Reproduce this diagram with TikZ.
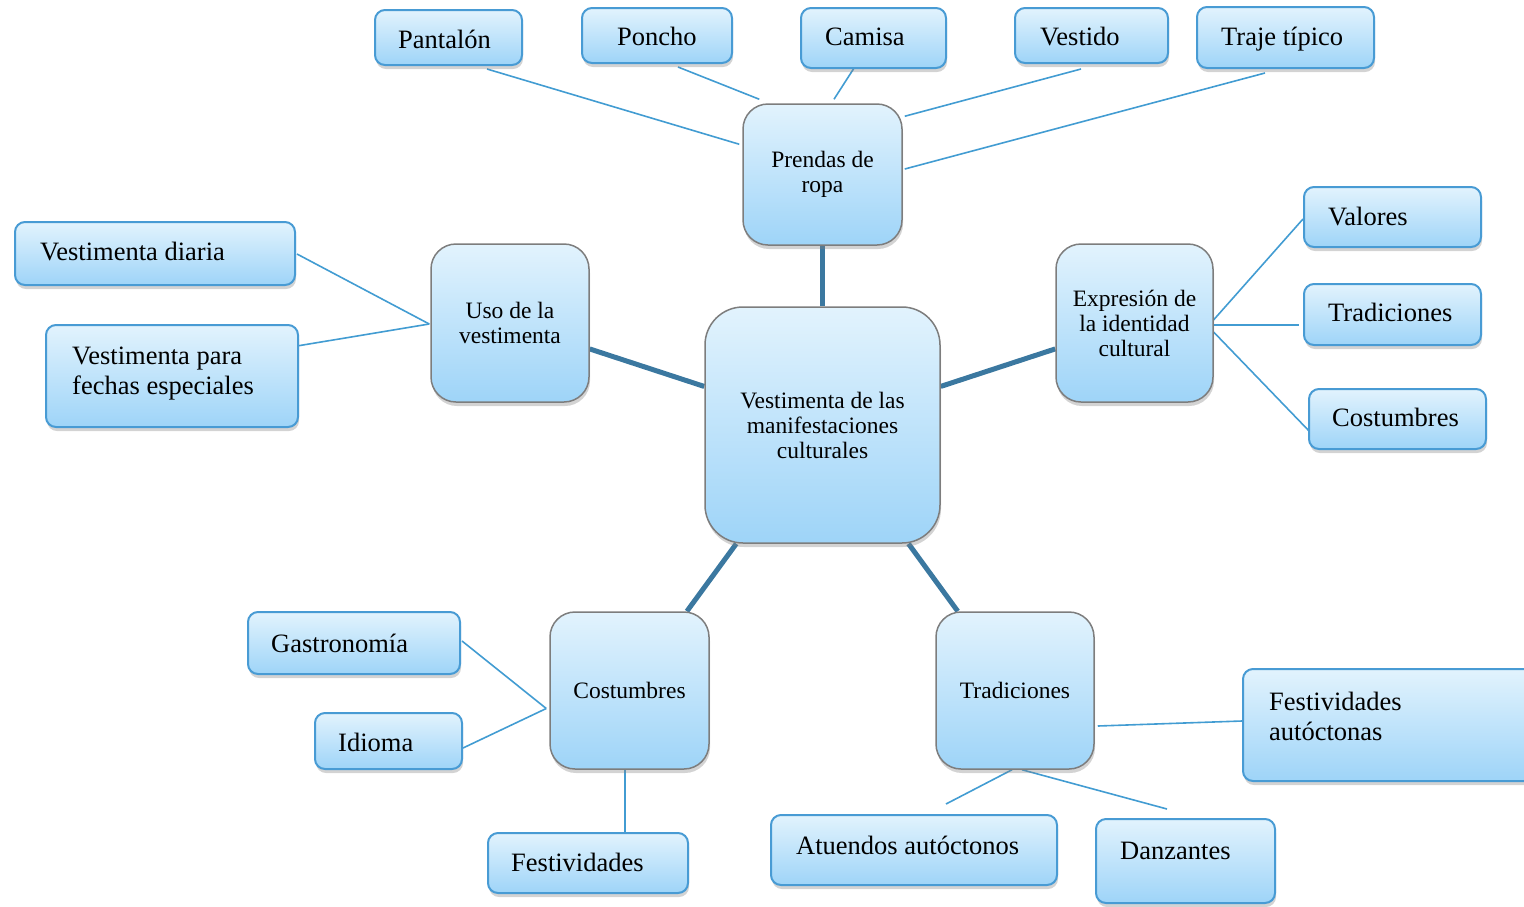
\documentclass[tikz,border=0pt]{standalone}
\usepackage{fontspec}
\setmainfont{Liberation Serif}
\usetikzlibrary{shadows}
\definecolor{boxtop}{RGB}{226,243,253}
\definecolor{boxbot}{RGB}{158,212,248}
\definecolor{leafline}{RGB}{72,155,212}
\definecolor{hubline}{RGB}{125,125,125}
\definecolor{trunk}{RGB}{59,120,160}
\definecolor{twig}{RGB}{66,156,210}
\pgfdeclarelayer{bg}
\pgfsetlayers{bg,main}

\begin{document}
\begin{tikzpicture}[x=1pt,y=-1pt,
    hub/.style={draw=hubline, line width=1.5pt, rounded corners=25pt, top color=boxtop, bottom color=boxbot,
      align=center, font=\fontsize{23.5}{25}\selectfont, inner sep=0pt,
      drop shadow={shadow xshift=1pt, shadow yshift=-4pt, opacity=.35}},
    leaf/.style={draw=leafline, line width=2pt, rounded corners=10pt, top color=boxtop, bottom color=boxbot,
      inner sep=0pt, drop shadow={shadow xshift=1pt, shadow yshift=-4pt, opacity=.35}},
    ltxt/.style={font=\fontsize{26.5}{30}\selectfont, inner sep=0pt, align=left},
    trunkline/.style={draw=trunk, line width=5pt},
    twigline/.style={draw=twig, line width=1.6pt}]
    \useasboundingbox (0,0) rectangle (1524,906);

    %Shape: central box
    \node[hub, rounded corners=38pt, minimum width=235, minimum height=236] (center) at (822.5,425) {Vestimenta de las\\manifestaciones\\culturales};
    %Shape: second level boxes
    \node[hub, minimum width=159, minimum height=141] (prendas) at (822.5,174.5) {Prendas de\\ropa};
    \node[hub, minimum width=158, minimum height=158] (uso) at (510,323) {Uso de la\\vestimenta};
    \node[hub, minimum width=157, minimum height=158] (expr) at (1134.5,323) {Expresión de\\la identidad\\cultural};
    \node[hub, minimum width=159, minimum height=157] (costM) at (629.5,690.5) {Costumbres};
    \node[hub, minimum width=158, minimum height=157] (tradM) at (1015,690.5) {Tradiciones};

    %Shape: leaf boxes
    \node[leaf, minimum width=147, minimum height=55] (pantalon) at (448.5,37.5) {};
    \node[leaf, minimum width=150, minimum height=55] (poncho) at (657,35.5) {};
    \node[leaf, minimum width=145, minimum height=60] (camisa) at (873.5,38) {};
    \node[leaf, minimum width=153, minimum height=55] (vestido) at (1091.5,35.5) {};
    \node[leaf, minimum width=177, minimum height=61] (traje) at (1285.5,37.5) {};
    \node[leaf, minimum width=177, minimum height=60] (valores) at (1392.5,217) {};
    \node[leaf, minimum width=177, minimum height=61] (tradR) at (1392.5,314.5) {};
    \node[leaf, minimum width=177, minimum height=60] (costR) at (1397.5,419) {};
    \node[leaf, minimum width=280, minimum height=63] (vdiaria) at (155,253.5) {};
    \node[leaf, minimum width=252, minimum height=102] (vfechas) at (172,376) {};
    \node[leaf, minimum width=212, minimum height=62] (gastro) at (354,643) {};
    \node[leaf, minimum width=147, minimum height=56] (idioma) at (388.5,741) {};
    \node[leaf, minimum width=200, minimum height=60] (festiv) at (588,863) {};
    \node[leaf, minimum width=286, minimum height=70] (atuendos) at (914,850) {};
    \node[leaf, minimum width=179, minimum height=84] (danz) at (1185.5,861) {};
    \node[leaf, minimum width=291, minimum height=112] (festaut) at (1388.5,725) {};

    % Text Node
    \node[ltxt, anchor=base west] (pantalonT) at (398,48) {Pantalón};
    \node[ltxt, anchor=base west] (ponchoT) at (617,45) {Poncho};
    \node[ltxt, anchor=base west] (camisaT) at (825,45) {Camisa};
    \node[ltxt, anchor=base west] (vestidoT) at (1040,45) {Vestido};
    \node[ltxt, anchor=base west] (trajeT) at (1221,45) {Traje típico};
    \node[ltxt, anchor=base west] (valoresT) at (1328,225) {Valores};
    \node[ltxt, anchor=base west] (tradRT) at (1328,321) {Tradiciones};
    \node[ltxt, anchor=base west] (costRT) at (1332,426) {Costumbres};
    \node[ltxt, anchor=base west] (vdiariaT) at (40,260) {Vestimenta diaria};
    \node[ltxt, anchor=west] (vfechasT) at (72,374) {Vestimenta para\\fechas especiales};
    \node[ltxt, anchor=base west] (gastroT) at (271,652) {Gastronomía};
    \node[ltxt, anchor=base west] (idiomaT) at (338,751) {Idioma};
    \node[ltxt, anchor=base west] (festivT) at (511,871) {Festividades};
    \node[ltxt, anchor=base west] (atuendosT) at (796,854) {Atuendos autóctonos};
    \node[ltxt, anchor=base west] (danzT) at (1120,859) {Danzantes};
    \node[ltxt, anchor=west] (festautT) at (1269,716) {Festividades\\autóctonas};

    \begin{pgfonlayer}{bg}
    %Straight Lines: centre to second level
    \draw[trunkline] (center) -- (prendas);
    \draw[trunkline] (center) -- (uso);
    \draw[trunkline] (center) -- (expr);
    \draw[trunkline] (center) -- (costM);
    \draw[trunkline] (center) -- (tradM);
    %Straight Lines: prendas de ropa
    \draw[twigline] ([shift={(38.5,3)}]pantalon.south) -- ([shift={(-3,41)}]prendas.north west);
    \draw[twigline] ([shift={(21,3)}]poncho.south) -- ([shift={(17,-4)}]prendas.north west);
    \draw[twigline] ([shift={(-17.5,-4)}]camisa.south) -- ([shift={(11.5,-4)}]prendas.north);
    \draw[twigline] ([shift={(-10.5,5)}]vestido.south) -- ([shift={(2,13)}]prendas.north east);
    \draw[twigline] ([shift={(-20.5,4)}]traje.south) -- ([shift={(2,-5.5)}]prendas.east);
    %Straight Lines: expresion
    \draw[twigline] ([shift={(-2,-1)}]expr.east) -- ([shift={(0,2)}]valores.west);
    \draw[twigline] ([shift={(-2,2)}]expr.east) -- ([shift={(-4,10.5)}]tradR.west);
    \draw[twigline] ([shift={(-4,5)}]expr.east) -- ([shift={(3,14)}]costR.west);
    %Straight Lines: uso
    \draw[twigline] ([shift={(1,0.5)}]vdiaria.east) -- ([shift={(-1,1)}]uso.west);
    \draw[twigline] ([shift={(-2,-30)}]vfechas.east) -- ([shift={(-1,1)}]uso.west);
    %Straight Lines: costumbres
    \draw[twigline] ([shift={(1,-2)}]gastro.east) -- ([shift={(-3,18)}]costM.west);
    \draw[twigline] ([shift={(0,7)}]idioma.east) -- ([shift={(-3,18)}]costM.west);
    \draw[twigline] ([shift={(-4.5,0)}]costM.south) -- ([shift={(37,0)}]festiv.north);
    %Straight Lines: tradiciones
    \draw[twigline] ([shift={(32,-10)}]atuendos.north) -- ([shift={(-3,0)}]tradM.south);
    \draw[twigline] ([shift={(7,0)}]tradM.south) -- ([shift={(-18.5,-9)}]danz.north);
    \draw[twigline] ([shift={(3,35.5)}]tradM.east) -- ([shift={(0,-4)}]festaut.west);
    \end{pgfonlayer}
\end{tikzpicture}
\end{document}
